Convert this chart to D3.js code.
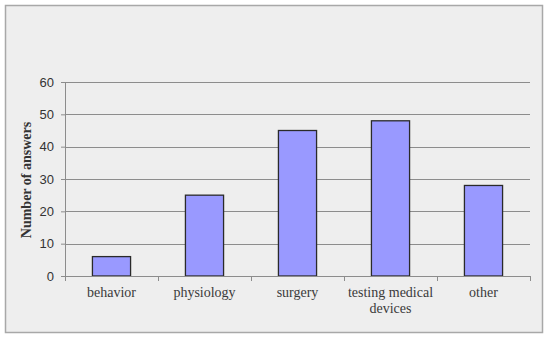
<!DOCTYPE html>
<html>
<head>
<meta charset="utf-8">
<script src="https://cdn.jsdelivr.net/npm/d3@7"></script>
<style>
  body { margin: 0; background: #fff; }
  .tick text { font-family: "Liberation Sans", Arial, sans-serif; }
</style>
</head>
<body>
<div class="chart"></div>
<script>
// chart data
var categories = ["behavior", "physiology", "surgery", "testing medical devices", "other"];
var answers = [6, 25, 45, 48, 28];
var yTicks = [0, 10, 20, 30, 40, 50, 60];

var svgWidth = 550;
var svgHeight = 341;

var margin = { top: 82, right: 20, bottom: 65, left: 65 };
var width = 530 - margin.left;
var height = 276 - margin.top;

var svg = d3.select(".chart")
  .append("svg")
  .attr("width", svgWidth)
  .attr("height", svgHeight);

// frame
svg.append("rect")
  .attr("x", 5.5)
  .attr("y", 5.5)
  .attr("width", 537)
  .attr("height", 327)
  .attr("fill", "#eeeeee")
  .attr("stroke", "#a8a8a8")
  .attr("stroke-width", 1.5);

var chartGroup = svg.append("g")
  .attr("transform", `translate(${margin.left}, ${margin.top})`);

var xBandScale = d3.scaleBand()
  .domain(categories)
  .range([0, width])
  .paddingInner(0.59)
  .paddingOuter(0.295);

var yLinearScale = d3.scaleLinear()
  .domain([0, 60])
  .range([height, 0]);

// gridlines
chartGroup.append("g")
  .selectAll("line")
  .data(yTicks.slice(1))
  .enter()
  .append("line")
  .attr("x1", 0)
  .attr("x2", width)
  .attr("y1", d => Math.round(yLinearScale(d)) + 0.5)
  .attr("y2", d => Math.round(yLinearScale(d)) + 0.5)
  .attr("stroke", "#8c8c8c")
  .attr("stroke-width", 1);

// y axis
var leftAxis = d3.axisLeft(yLinearScale)
  .tickValues(yTicks)
  .tickSize(4)
  .tickPadding(7);

var yAxis = chartGroup.append("g")
  .call(leftAxis);
yAxis.select(".domain").attr("stroke", "#8c8c8c").attr("d", `M0.5,0V${height}`);
yAxis.selectAll(".tick line").attr("stroke", "#8c8c8c");
yAxis.selectAll(".tick text")
  .attr("fill", "#333")
  .style("font-size", "13px");

// bars
chartGroup.selectAll(".bar")
  .data(answers)
  .enter()
  .append("rect")
  .attr("class", "bar")
  .attr("x", (d, i) => xBandScale(categories[i]))
  .attr("y", d => yLinearScale(d))
  .attr("width", xBandScale.bandwidth())
  .attr("height", d => height - yLinearScale(d))
  .attr("fill", "#9999ff")
  .attr("stroke", "#2a2a2a")
  .attr("stroke-width", 1.3);

// x axis
var xAxisGroup = chartGroup.append("g")
  .attr("transform", `translate(0, ${height})`);

xAxisGroup.append("line")
  .attr("x1", 0)
  .attr("x2", width)
  .attr("y1", 0.5)
  .attr("y2", 0.5)
  .attr("stroke", "#8c8c8c");

var step = xBandScale.step();
xAxisGroup.selectAll(".xtick")
  .data(d3.range(categories.length + 1))
  .enter()
  .append("line")
  .attr("class", "xtick")
  .attr("x1", d => Math.round(d * step) + 0.5)
  .attr("x2", d => Math.round(d * step) + 0.5)
  .attr("y1", 0)
  .attr("y2", 5)
  .attr("stroke", "#8c8c8c");

// category labels (wrapped like the original)
var wrapped = { "testing medical devices": ["testing medical", "devices"] };
xAxisGroup.selectAll(".xlabel")
  .data(categories)
  .enter()
  .append("text")
  .attr("class", "xlabel")
  .attr("text-anchor", "middle")
  .attr("font-family", "'Liberation Serif', 'Times New Roman', serif")
  .attr("font-size", "14px")
  .attr("fill", "#3a3a3a")
  .each(function(d) {
    var lines = wrapped[d] || [d];
    var t = d3.select(this);
    lines.forEach(function(line, j) {
      t.append("tspan")
        .attr("x", xBandScale(d) + xBandScale.bandwidth() / 2)
        .attr("y", 21 + j * 16)
        .text(line);
    });
  });

// y axis title
svg.append("text")
  .attr("transform", "rotate(-90)")
  .attr("x", -180)
  .attr("y", 31)
  .attr("text-anchor", "middle")
  .attr("font-family", "'Liberation Serif', 'Times New Roman', serif")
  .attr("font-weight", "bold")
  .attr("font-size", "14px")
  .attr("fill", "#333")
  .text("Number of answers");
</script>
</body>
</html>
